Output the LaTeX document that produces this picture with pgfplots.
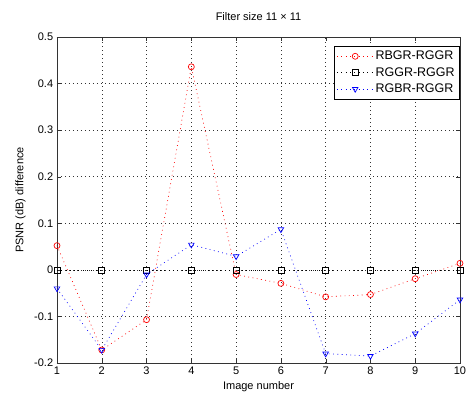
\documentclass[border=0pt]{standalone}
\usepackage{fontspec}
\setmainfont{Liberation Sans}
\usepackage{pgfplots}
\pgfplotsset{compat=1.18}
\begin{document}
\fontsize{11bp}{13bp}\selectfont
\begin{tikzpicture}
\useasboundingbox (-57bp,-37bp) rectangle (411bp,363bp);
\begin{axis}[
  at={(0,0)}, anchor=south west,
  width=403bp, height=326bp, scale only axis,
  xmin=1, xmax=10, ymin=-0.2, ymax=0.5,
  xtick={1,2,3,4,5,6,7,8,9,10},
  ytick={-0.2,-0.1,0,0.1,0.2,0.3,0.4,0.5},
  yticklabels={-0.2,-0.1,0,0.1,0.2,0.3,0.4,0.5},
  /pgf/number format/assume math mode=true,
  tick align=inside,
  major tick length=4bp,
  grid=major,
  major grid style={black!80, line width=0.5pt, dash pattern=on 0.8bp off 3.2bp},
  axis line style={black!80, line width=0.6pt},
  tick style={black!80},
  ticklabel style={font=\fontsize{11bp}{13bp}\selectfont},
  title={Filter size 11 × 11},
  title style={font=\fontsize{11bp}{13bp}\selectfont, yshift=7bp},
  xlabel={Image number},
  ylabel={PSNR (dB) difference},
  label style={font=\fontsize{11bp}{13bp}\selectfont},
  xlabel style={yshift=1bp},
  ylabel style={yshift=1bp},
  clip=false,
  legend cell align=left,
  legend style={draw=black, line width=0.6pt, font=\fontsize{12.5bp}{14bp}\selectfont,
    at={(1,0.973)}, anchor=north east, inner sep=3bp,
    row sep=2bp},
  legend image code/.code={
    \draw[mark repeat=2,mark phase=2] plot coordinates {(0bp,0bp) (18bp,0bp) (36bp,0bp)};
  },
]
\addplot[red, line width=0.7pt, dash pattern=on 0.8bp off 3.5bp, mark=o, mark size=3bp, mark options={solid}]
coordinates {(1,0.052) (2,-0.172) (3,-0.107) (4,0.436) (5,-0.010) (6,-0.029) (7,-0.058) (8,-0.053) (9,-0.019) (10,0.014)};
\addlegendentry{RBGR-RGGR}
\addplot[black, line width=0.7pt, dash pattern=on 0.8bp off 3.5bp, mark=square, mark size=3bp, mark options={solid}]
coordinates {(1,0) (2,0) (3,0) (4,0) (5,0) (6,0) (7,0) (8,0) (9,0) (10,0)};
\addlegendentry{RGGR-RGGR}
\addplot[blue, line width=0.7pt, dash pattern=on 0.8bp off 3.5bp, mark=triangle, mark size=3.2bp, mark options={solid, rotate=180}]
coordinates {(1,-0.040) (2,-0.172) (3,-0.010) (4,0.054) (5,0.029) (6,0.087) (7,-0.180) (8,-0.185) (9,-0.137) (10,-0.064)};
\addlegendentry{RGBR-RGGR}
\end{axis}
\end{tikzpicture}
\end{document}
